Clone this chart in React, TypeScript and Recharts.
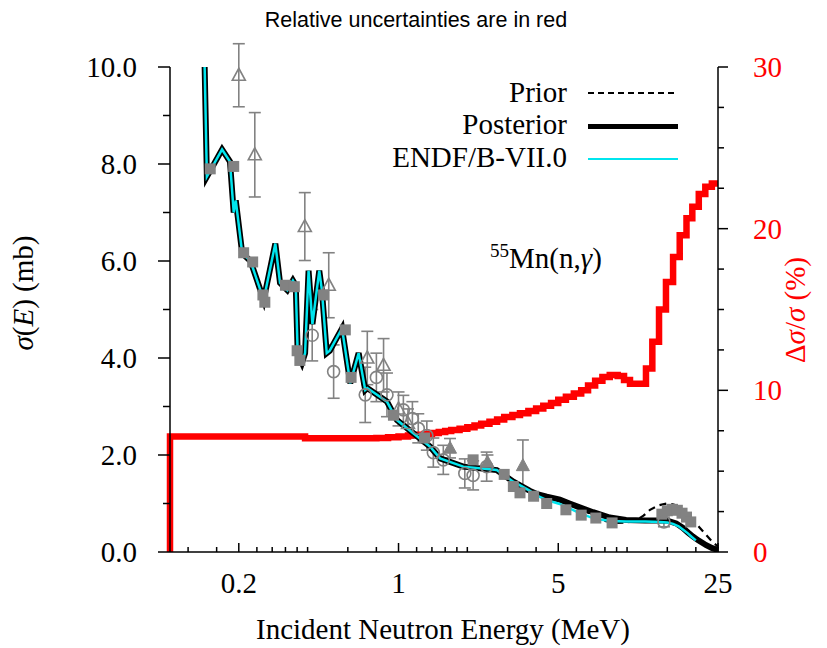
import React from 'react';
import { ComposedChart, Line, Scatter, XAxis, YAxis, ErrorBar, Customized } from 'recharts';

const SERIF = "'Liberation Serif', 'Times New Roman', Tinos, 'DejaVu Serif', 'Nimbus Roman', serif";
const SANS = "'Liberation Sans', Arial, Arimo, sans-serif";
const W = 811;
const H = 640;
const GRAY = '#828282';

// ---- tick values ----
const xTicks = [0.12, 0.16, 0.2, 0.24, 0.28, 0.32, 0.36, 0.4, 0.6, 0.8, 1, 1.2, 1.4, 1.6, 1.8, 2, 3, 4, 5, 6, 7, 8, 9, 10, 15, 20, 25];
const xMajor = [0.2, 1, 5, 25];
const yLeftTicks = [0, 1, 2, 3, 4, 5, 6, 7, 8, 9, 10];
const yRightTicks = [0, 2.5, 5, 7.5, 10, 12.5, 15, 17.5, 20, 22.5, 25, 27.5, 30];
const yRightMajor = [0, 10, 20, 30];

// ---- cross sections (E in MeV, sigma in mb) ----
const sigmaShared = [
  [0.139, 12.0], [0.145, 7.74], [0.169, 8.3], [0.183, 8.05], [0.19, 7.0], [0.194, 7.25],
  [0.207, 6.16], [0.225, 6.0], [0.257, 5.2], [0.289, 6.36], [0.303, 5.55], [0.326, 5.4],
  [0.345, 5.6], [0.355, 5.5], [0.362, 4.1], [0.378, 3.9], [0.39, 4.1], [0.404, 5.8],
  [0.42, 4.7], [0.45, 5.8], [0.462, 5.4], [0.485, 4.1], [0.5, 4.15], [0.566, 4.61],
  [0.615, 3.48], [0.669, 4.1], [0.715, 3.34], [0.73, 3.38], [0.89, 3.1], [0.984, 2.72],
  [1.16, 2.45], [1.375, 2.17], [1.52, 1.93], [1.92, 1.76], [2.69, 1.69], [3.18, 1.45],
  [3.76, 1.26],
];
const endfHigh = [
  [4.0, 1.17], [4.45, 1.07], [5.08, 0.99], [5.6, 0.9], [6.2, 0.8], [6.9, 0.72], [7.6, 0.67],
  [8.5, 0.64], [9.9, 0.63], [12, 0.63], [13.9, 0.62], [15.0, 0.61], [15.9, 0.58], [16.8, 0.53],
  [17.6, 0.46], [18.4, 0.39], [19.2, 0.31], [20.0, 0.24],
];
const posteriorHigh = [
  [4.0, 1.2], [4.45, 1.14], [5.08, 1.08], [5.6, 1.0], [6.2, 0.92], [7.1, 0.82], [8.4, 0.71],
  [9.9, 0.66], [12, 0.65], [14.9, 0.65], [16.4, 0.59], [17.5, 0.5], [18.5, 0.4], [19.4, 0.32],
  [20.5, 0.24], [22.2, 0.14], [23.6, 0.08], [25, 0.04],
];
const priorHigh = [
  [4.0, 1.2], [4.45, 1.14], [5.08, 1.08], [5.6, 1.0], [6.2, 0.9], [7.1, 0.76], [8.0, 0.64],
  [8.9, 0.6], [10, 0.61], [11, 0.66], [11.8, 0.75], [12.6, 0.87], [13.7, 0.96], [14.9, 1.0],
  [16.0, 0.98], [17.0, 0.93], [18.2, 0.8], [19.4, 0.66], [20.8, 0.5], [22.2, 0.35],
  [23.5, 0.22], [24.6, 0.14], [25, 0.11],
];

// ---- relative uncertainty (%), step function ----
const uncertainty = [
  [0.1, 0], [0.1, 7.15], [0.39, 7.03], [0.8, 7.05], [0.9, 7.1], [1.0, 7.15], [1.1, 7.2],
  [1.2, 7.25], [1.3, 7.3], [1.4, 7.36], [1.5, 7.42], [1.6, 7.48], [1.7, 7.55], [1.85, 7.63],
  [2.0, 7.72], [2.15, 7.82], [2.3, 7.93], [2.5, 8.05], [2.7, 8.2], [2.9, 8.35], [3.15, 8.47],
  [3.4, 8.58], [3.7, 8.72], [4.0, 8.88], [4.3, 9.05], [4.65, 9.22], [5.0, 9.42], [5.4, 9.6],
  [5.85, 9.8], [6.3, 10.0], [6.75, 10.3], [7.25, 10.6], [7.8, 10.82], [8.4, 10.95],
  [9.1, 10.88], [9.7, 10.64], [10.3, 10.4], [12.1, 11.35], [12.9, 13.0], [13.8, 15.0],
  [14.8, 16.7], [15.9, 18.25], [17.0, 19.6], [18.2, 20.65], [19.3, 21.35], [20.6, 22.15],
  [22.0, 22.6], [23.5, 22.8], [25, 22.8],
];

// ---- experimental data ----
const expSquares = [
  [0.15, 7.9], [0.19, 7.95], [0.21, 6.17], [0.23, 5.98], [0.255, 5.3], [0.26, 5.15], [0.32, 5.5],
  [0.35, 5.47], [0.36, 4.15], [0.37, 3.95], [0.47, 5.3], [0.585, 4.58], [0.62, 3.6], [0.95, 2.82],
  [1.3, 2.35], [2.12, 1.9], [2.9, 1.6], [3.18, 1.35], [3.4, 1.22], [3.9, 1.15], [4.45, 1.0],
  [5.4, 0.87], [6.3, 0.76], [7.3, 0.7], [8.6, 0.6], [14.2, 0.78], [15.0, 0.85], [15.8, 0.88],
  [16.6, 0.86], [17.4, 0.8], [18.2, 0.72], [19.0, 0.62],
];
const expCircles = [
  [0.419, 4.47, 0.53], [0.52, 3.72, 0.55], [0.715, 3.24, 0.57], [0.8, 3.6, 0.5], [0.89, 3.24, 0.45],
  [1.05, 2.93, 0.3], [1.15, 2.75, 0.35], [1.22, 2.55, 0.3], [1.33, 2.4, 0.3], [1.42, 2.05, 0.3],
  [1.57, 1.9, 0.3], [1.95, 1.62, 0.3], [2.12, 1.58, 0.3], [2.43, 1.76, 0.3], [14.5, 0.62, 0.1],
];
const expTriOpen = [
  [0.2, 9.83, 0.65], [0.235, 8.19, 0.87], [0.389, 6.71, 0.7], [0.495, 5.5, 0.67], [0.73, 4.0, 0.55],
  [0.86, 3.85, 0.55], [1.0, 2.95, 0.35], [1.1, 2.65, 0.3],
];
const expTriFilled = [
  [1.68, 2.14, 0.2], [2.45, 1.85, 0.15], [3.5, 1.78, 0.53],
];

const pts = (arr: number[][]) => arr.map(([x, y]) => ({ x, y }));
const ptsErr = (arr: number[][]) => arr.map(([x, y, e]) => ({ x, y, e }));
const uPts = (arr: number[][]) => arr.map(([x, u]) => ({ x, u }));

const endfData = pts([...sigmaShared, ...endfHigh]);
const posteriorData = pts([...sigmaShared, ...posteriorHigh]);
const priorData = pts([...sigmaShared, ...priorHigh]);

const serifStyle = { fontFamily: SERIF };

// ---- tick renderers ----
const BottomTick = (p: any) => {
  const v = p.payload.value;
  const major = xMajor.includes(v);
  return (
    <g>
      <line x1={p.x} x2={p.x} y1={p.y} y2={p.y - (major ? 9 : 5)} stroke="#000" strokeWidth={1.5} />
      {major && (
        <text x={p.x} y={p.y + 41} textAnchor="middle" style={serifStyle} fontSize={29} fill="#000">
          {String(v)}
        </text>
      )}
    </g>
  );
};
const TopTick = (p: any) => {
  const v = p.payload.value;
  const major = xMajor.includes(v);
  return <line x1={p.x} x2={p.x} y1={p.y} y2={p.y + (major ? 9 : 5)} stroke="#000" strokeWidth={1.5} />;
};
const LeftTick = (p: any) => {
  const v = p.payload.value;
  const major = v % 2 === 0;
  return (
    <g>
      <line x1={p.x} x2={p.x - (major ? 12 : 7)} y1={p.y} y2={p.y} stroke="#000" strokeWidth={1.5} />
      {major && (
        <text x={p.x - 33} y={p.y} dy="0.34em" textAnchor="end" style={serifStyle} fontSize={29} fill="#000">
          {v.toFixed(1)}
        </text>
      )}
    </g>
  );
};
const RightTick = (p: any) => {
  const v = p.payload.value;
  const major = yRightMajor.includes(v);
  return (
    <g>
      <line x1={p.x} x2={p.x + (major ? 10 : 6)} y1={p.y} y2={p.y} stroke="#000" strokeWidth={1.5} />
      {major && (
        <text x={p.x + 35} y={p.y} dy="0.34em" textAnchor="start" style={serifStyle} fontSize={29} fill="#ff0000">
          {String(v)}
        </text>
      )}
    </g>
  );
};

// ---- markers ----
const SquareShape = (p: any) => <rect x={p.cx - 5.5} y={p.cy - 5.5} width={11} height={11} fill={GRAY} />;
const CircleShape = (p: any) => <circle cx={p.cx} cy={p.cy} r={6} fill="none" stroke={GRAY} strokeWidth={1.6} />;
const TriOpenShape = (p: any) => (
  <path d={`M${p.cx},${p.cy - 7} L${p.cx + 6.5},${p.cy + 5} L${p.cx - 6.5},${p.cy + 5} Z`} fill="none" stroke={GRAY} strokeWidth={1.6} />
);
const TriFilledShape = (p: any) => (
  <path d={`M${p.cx},${p.cy - 7} L${p.cx + 6.5},${p.cy + 5} L${p.cx - 6.5},${p.cy + 5} Z`} fill={GRAY} stroke={GRAY} strokeWidth={1} />
);

// ---- decorations: title, legend, annotation, axis titles ----
const Decorations = () => (
  <g>
    <text x={408} y={19} textAnchor="middle" style={{ fontFamily: SANS }} fontSize={21.5} fill="#000">
      Relative uncertainties are in red
    </text>
    {/* legend */}
    <g style={serifStyle} fontSize={29} fill="#000">
      <text x={559} y={94} textAnchor="end">Prior</text>
      <line x1={580} x2={670} y1={85} y2={85} stroke="#000" strokeWidth={2} strokeDasharray="6 4" />
      <text x={559} y={126} textAnchor="end">Posterior</text>
      <line x1={580} x2={670} y1={118.5} y2={118.5} stroke="#000" strokeWidth={5} />
      <text x={559} y={159} textAnchor="end">ENDF/B-VII.0</text>
      <line x1={580} x2={670} y1={151} y2={151} stroke="#00e5ee" strokeWidth={2} />
    </g>
    {/* annotation */}
    <text x={482} y={260} style={serifStyle} fontSize={29} fill="#000">
      <tspan fontSize={19} dy={-11}>55</tspan>
      <tspan dy={11}>Mn(n,</tspan>
      <tspan fontStyle="italic">γ</tspan>
      <tspan>)</tspan>
    </text>
    {/* left axis title */}
    <text x={25} y={285} transform="rotate(-90 25 285)" textAnchor="middle" style={serifStyle} fontSize={29} fill="#000">
      <tspan fontStyle="italic">σ</tspan>
      <tspan>(</tspan>
      <tspan fontStyle="italic">E</tspan>
      <tspan>) (mb)</tspan>
    </text>
    {/* right axis title */}
    <text x={797} y={302} transform="rotate(-90 797 302)" textAnchor="middle" style={serifStyle} fontSize={29} fill="#ff0000">
      <tspan>Δ</tspan>
      <tspan fontStyle="italic">σ</tspan>
      <tspan>/</tspan>
      <tspan fontStyle="italic">σ</tspan>
      <tspan> (%)</tspan>
    </text>
    {/* x axis title */}
    <text x={435} y={631} textAnchor="middle" style={serifStyle} fontSize={29} fill="#000">
      Incident Neutron Energy (MeV)
    </text>
  </g>
);

export default function App() {
  return (
    <ComposedChart width={W} height={H} margin={{ top: 59, right: 0, bottom: 0, left: 0 }}>
      <XAxis
        xAxisId="b"
        dataKey="x"
        type="number"
        scale="log"
        domain={[0.1, 25]}
        ticks={xTicks}
        interval={0}
        tick={<BottomTick />}
        tickLine={false}
        tickSize={0}
        tickMargin={0}
        height={96}
        axisLine={{ stroke: '#000', strokeWidth: 1.5 }}
      />
      <XAxis
        xAxisId="t"
        dataKey="x"
        type="number"
        scale="log"
        orientation="top"
        domain={[0.1, 25]}
        allowDataOverflow
        ticks={xTicks}
        interval={0}
        tick={<TopTick />}
        tickLine={false}
        tickSize={0}
        tickMargin={0}
        height={0}
        axisLine={{ stroke: '#000', strokeWidth: 1.5 }}
      />
      <YAxis
        yAxisId="l"
        dataKey="y"
        type="number"
        domain={[0, 10]}
        allowDataOverflow
        ticks={yLeftTicks}
        interval={0}
        tick={<LeftTick />}
        tickLine={false}
        tickSize={0}
        tickMargin={0}
        width={162}
        axisLine={{ stroke: '#000', strokeWidth: 1.5 }}
      />
      <YAxis
        yAxisId="r"
        orientation="right"
        dataKey="u"
        type="number"
        domain={[0, 30]}
        ticks={yRightTicks}
        interval={0}
        tick={<RightTick />}
        tickLine={false}
        tickSize={0}
        tickMargin={0}
        width={101}
        axisLine={{ stroke: '#000', strokeWidth: 1.5 }}
      />
      <Scatter xAxisId="b" yAxisId="l" data={pts(expSquares)} shape={<SquareShape />} isAnimationActive={false} />
      <Scatter xAxisId="b" yAxisId="l" data={ptsErr(expCircles)} shape={<CircleShape />} isAnimationActive={false}>
        <ErrorBar dataKey="e" direction="y" width={6} stroke={GRAY} strokeWidth={1.6} />
      </Scatter>
      <Scatter xAxisId="b" yAxisId="l" data={ptsErr(expTriOpen)} shape={<TriOpenShape />} isAnimationActive={false}>
        <ErrorBar dataKey="e" direction="y" width={6} stroke={GRAY} strokeWidth={1.6} />
      </Scatter>
      <Scatter xAxisId="b" yAxisId="l" data={ptsErr(expTriFilled)} shape={<TriFilledShape />} isAnimationActive={false}>
        <ErrorBar dataKey="e" direction="y" width={6} stroke={GRAY} strokeWidth={1.6} />
      </Scatter>
      <Line xAxisId="b" yAxisId="r" data={uPts(uncertainty)} dataKey="u" type="stepAfter" stroke="#ff0000" strokeWidth={6.5} dot={false} isAnimationActive={false} />
      <Line xAxisId="b" yAxisId="l" data={posteriorData} dataKey="y" type="linear" stroke="#000" strokeWidth={6} dot={false} isAnimationActive={false} />
      <Line xAxisId="b" yAxisId="l" data={priorData} dataKey="y" type="linear" stroke="#000" strokeWidth={2.2} strokeDasharray="7 5" dot={false} isAnimationActive={false} />
      <Line xAxisId="b" yAxisId="l" data={endfData} dataKey="y" type="linear" stroke="#00e5ee" strokeWidth={2.5} dot={false} isAnimationActive={false} />
      <Customized component={Decorations} />
    </ComposedChart>
  );
}
